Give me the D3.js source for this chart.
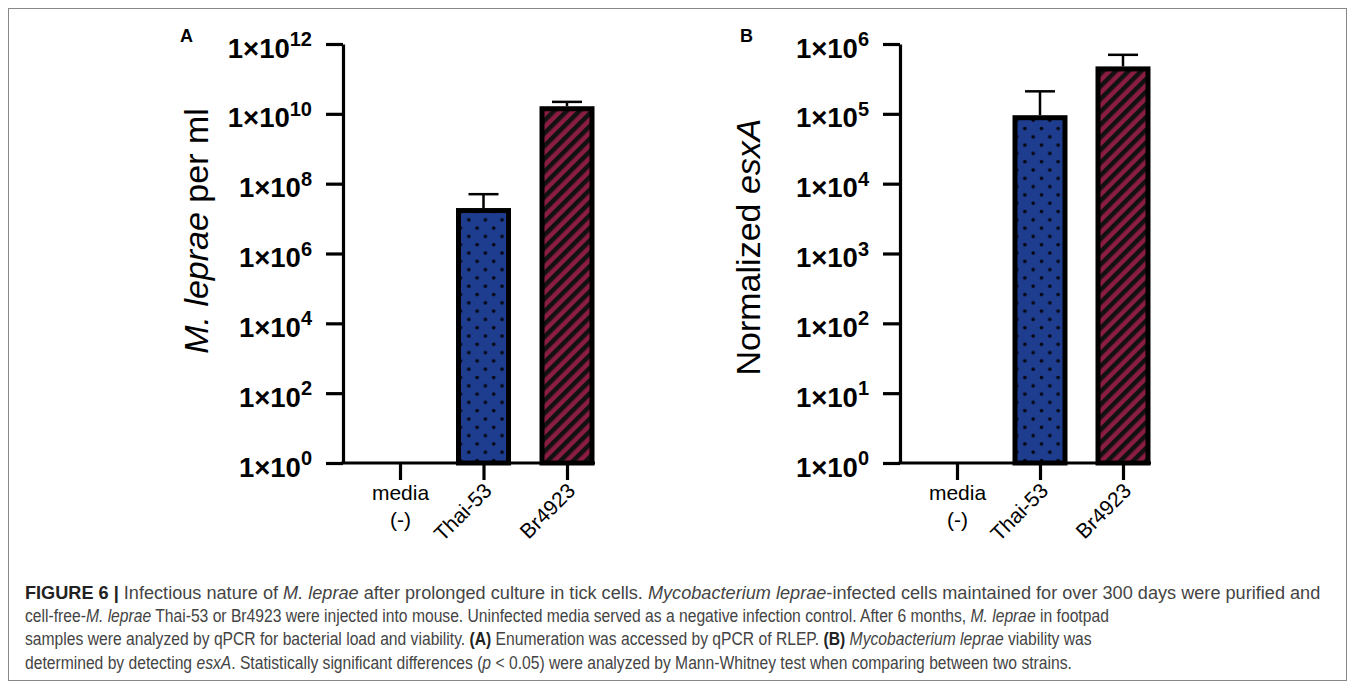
<!DOCTYPE html>
<html>
<head>
<meta charset="utf-8">
<script src="https://cdn.jsdelivr.net/npm/d3@7"></script>
<style>
  body { margin: 0; background: #fff; }
  svg { display: block; font-family: "Liberation Sans", Arial, sans-serif; }
</style>
</head>
<body>
<svg width="1355" height="685"></svg>
<script>
const categories = ["media", "Thai-53", "Br4923"];
const lepraePerMl = [0, 1.7e7, 1.4e10];
const lepraeUpper = [0, 5e7, 2.2e10];
const esxA = [0, 8.8e4, 4.4e5];
const esxAUpper = [0, 2.1e5, 7e5];
const ticksA = [1e0, 1e2, 1e4, 1e6, 1e8, 1e10, 1e12];
const ticksB = [1e0, 1e1, 1e2, 1e3, 1e4, 1e5, 1e6];

const svg = d3.select("svg");

// frame
svg.append("rect")
  .attr("x", 8.5).attr("y", 8.5)
  .attr("width", 1338).attr("height", 672)
  .attr("fill", "none").attr("stroke", "#888").attr("stroke-width", 1);

// patterns
const defs = svg.append("defs");
const dots = defs.append("pattern")
  .attr("id", "dots").attr("patternUnits", "userSpaceOnUse")
  .attr("width", 16.6).attr("height", 16.6);
dots.append("rect").attr("width", 16.6).attr("height", 16.6).attr("fill", "#1e3d8e");
dots.append("circle").attr("cx", 4).attr("cy", 4).attr("r", 1.85).attr("fill", "#080814");
dots.append("circle").attr("cx", 12.3).attr("cy", 12.3).attr("r", 1.85).attr("fill", "#080814");

const stripes = defs.append("pattern")
  .attr("id", "stripes").attr("patternUnits", "userSpaceOnUse")
  .attr("width", 9).attr("height", 9)
  .attr("patternTransform", "rotate(45)");
stripes.append("rect").attr("width", 9).attr("height", 9).attr("fill", "#8b1c42");
stripes.append("rect").attr("width", 4.5).attr("height", 9).attr("fill", "#111");

const fills = ["none", "url(#dots)", "url(#stripes)"];

function drawPanel(opts) {
  const g = svg.append("g");
  const y = d3.scaleLog().domain(opts.domain).range([463, 44]);
  const x = d3.scalePoint().domain(categories).range(opts.xRange);
  const barW = 50;
  const rows = categories.map((c, i) => ({ c, v: opts.values[i], u: opts.upper[i], i })).filter(d => d.v > 0);

  // bars
  g.selectAll("rect.bar")
    .data(rows)
    .join("rect")
    .attr("class", "bar")
    .attr("x", d => x(d.c) - barW / 2)
    .attr("y", d => y(d.v))
    .attr("width", barW)
    .attr("height", d => y(1) - y(d.v))
    .attr("fill", d => fills[d.i])
    .attr("stroke", "#000")
    .attr("stroke-width", 5);

  // error bars (upper only)
  const err = g.selectAll("g.err").data(rows).join("g").attr("class", "err");
  err.append("line")
    .attr("x1", d => x(d.c)).attr("x2", d => x(d.c))
    .attr("y1", d => y(d.v) - 2.5).attr("y2", d => y(d.u))
    .attr("stroke", "#000").attr("stroke-width", 2.5);
  err.append("line")
    .attr("x1", d => x(d.c) - 15).attr("x2", d => x(d.c) + 15)
    .attr("y1", d => y(d.u)).attr("y2", d => y(d.u))
    .attr("stroke", "#000").attr("stroke-width", 2.5);

  // y axis
  const yAxis = g.append("g")
    .attr("transform", `translate(${opts.axisX},0)`)
    .call(d3.axisLeft(y).tickValues(opts.ticks).tickSize(17).tickSizeOuter(0).tickFormat(() => ""));
  yAxis.select(".domain").attr("stroke", "#000").attr("stroke-width", 3.2);
  yAxis.selectAll(".tick line").attr("stroke", "#000").attr("stroke-width", 3.2);
  yAxis.selectAll(".tick text").each(function(d) {
    const t = d3.select(this)
      .attr("x", -31).attr("dy", null).attr("y", 13)
      .attr("text-anchor", "end")
      .attr("fill", "#000")
      .attr("font-weight", "bold")
      .attr("font-size", 27.5);
    t.text(null);
    t.append("tspan").text("1×10");
    t.append("tspan").attr("font-size", 20).attr("dy", -11.5).text(Math.round(Math.log10(d)));
  });

  // x axis
  const xAxis = g.append("g")
    .attr("transform", "translate(0,463)")
    .call(d3.axisBottom(x).tickSize(17).tickSizeOuter(0).tickFormat(() => ""));
  xAxis.select(".domain")
    .attr("d", `M${opts.axisX - 1.6},0H${x(categories[2]) + barW / 2 + 3}`)
    .attr("stroke", "#000").attr("stroke-width", 3.2);
  xAxis.selectAll(".tick line").attr("stroke", "#000").attr("stroke-width", 3.2);
  xAxis.selectAll(".tick text").each(function(d, i) {
    const t = d3.select(this).attr("fill", "#000").attr("font-size", 21).attr("dy", null);
    if (i === 0) {
      t.attr("y", 37).attr("text-anchor", "middle");
      t.append("tspan").attr("x", 0).text(d);
      t.append("tspan").attr("x", 0).attr("dy", 27).text("(-)");
    } else {
      t.attr("y", 0).attr("text-anchor", "end")
        .attr("transform", "translate(9,29) rotate(-45)")
        .text(d);
    }
  });

  // y label
  const lbl = g.append("text")
    .attr("transform", `translate(${opts.labelX},${opts.labelY}) rotate(-90)`)
    .attr("text-anchor", "middle")
    .attr("font-size", 34)
    .attr("fill", "#000");
  opts.label.forEach(p => lbl.append("tspan").attr("font-style", p[1] ? "italic" : "normal").text(p[0]));

  // panel letter
  g.append("text")
    .attr("x", opts.letterX).attr("y", 42)
    .attr("font-size", 18).attr("font-weight", "bold")
    .text(opts.letter);
}

drawPanel({
  domain: [1, 1e12], ticks: ticksA, values: lepraePerMl, upper: lepraeUpper,
  xRange: [400, 567], axisX: 343, labelX: 208, labelY: 231, letter: "A", letterX: 180,
  label: [["M. leprae", true], [" per ml", false]]
});
drawPanel({
  domain: [1, 1e6], ticks: ticksB, values: esxA, upper: esxAUpper,
  xRange: [957, 1123], axisX: 900, labelX: 760, labelY: 247, letter: "B", letterX: 740,
  label: [["Normalized ", false], ["esxA", true]]
});

// caption (condensed look: horizontal scale per line to the reference line ends)
const captionLines = [
  [["FIGURE 6 | ", "b"], ["Infectious nature of ", ""], ["M. leprae", "i"], [" after prolonged culture in tick cells. ", ""], ["Mycobacterium leprae", "i"], ["-infected cells maintained for over 300 days were purified and", ""]],
  [["cell-free-", ""], ["M. leprae", "i"], [" Thai-53 or Br4923 were injected into mouse. Uninfected media served as a negative infection control. After 6 months, ", ""], ["M. leprae", "i"], [" in footpad", ""]],
  [["samples were analyzed by qPCR for bacterial load and viability. ", ""], ["(A)", "b"], [" Enumeration was accessed by qPCR of RLEP. ", ""], ["(B)", "b"], [" ", ""], ["Mycobacterium leprae", "i"], [" viability was", ""]],
  [["determined by detecting ", ""], ["esxA", "i"], [". Statistically significant differences (", ""], ["p", "i"], [" < 0.05) were analyzed by Mann-Whitney test when comparing between two strains.", ""]]
];
const captionEnds = [1321, 1110, 1093, 1073];
const capX = 25;
captionLines.forEach((parts, i) => {
  const t = svg.append("text")
    .attr("x", 0).attr("y", 0)
    .attr("font-size", 18.5)
    .attr("fill", "#444");
  parts.forEach(p => {
    t.append("tspan")
      .attr("font-weight", p[1] === "b" ? "bold" : null)
      .attr("font-style", p[1] === "i" ? "italic" : null)
      .attr("fill", p[1] === "b" ? "#222" : null)
      .text(p[0]);
  });
  const w = t.node().getComputedTextLength();
  const sx = (captionEnds[i] - capX) / w;
  t.attr("transform", `translate(${capX},${599 + i * 23.2}) scale(${sx.toFixed(4)},1)`);
});
</script>
</body>
</html>
